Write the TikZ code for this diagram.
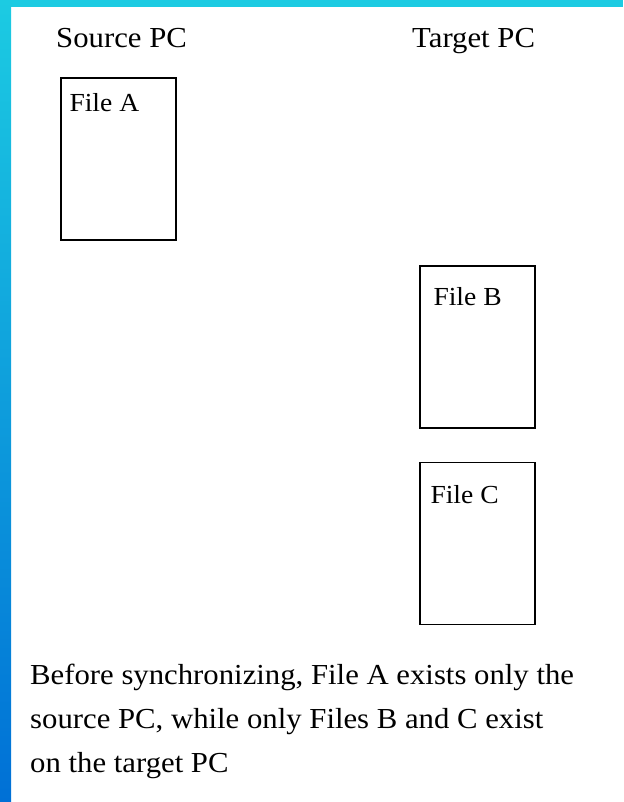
\documentclass[tikz,border=0pt]{standalone}
\usepackage{fontspec}
\setmainfont[FakeStretch=1.06]{Liberation Serif}
\usepackage{tikz}
\usetikzlibrary{positioning}
\definecolor{edgecyan}{RGB}{28, 203, 226}
\definecolor{edgeblue}{RGB}{0, 112, 214}

\begin{document}
\begin{tikzpicture}[x=1pt, y=-1pt,
    filebox/.style={draw, line width=1.4pt, minimum width=115pt, minimum height=162pt, inner sep=0pt},
    filelabel/.style={anchor=base west, inner sep=0pt, font=\fontsize{26}{30}\selectfont},
    pclabel/.style={anchor=base west, inner sep=0pt, font=\fontsize{29}{34}\selectfont}]
\useasboundingbox (0,0) rectangle (623,802);

% Blue frame at the top and left
\fill[edgecyan] (0,0) rectangle (623,7);
\shade[top color=edgecyan, bottom color=edgeblue] (0,0) rectangle (11,802);

% Headings
\node[pclabel] (source) at (56,48) {Source PC};
\node[pclabel] (target) at (412,48) {Target PC};

% Files
\node[filebox] (filea) at (118.5,159) {};
\node[filebox] (fileb) at (477.5,347) {};
\node[filebox] (filec) at (477.5,543.5) {};

\node[filelabel] (labela) at ([shift={(9,34)}]filea.north west) {File A};
\node[filelabel] (labelb) at ([shift={(14,40)}]fileb.north west) {File B};
\node[filelabel] (labelc) at ([shift={(11,42)}]filec.north west) {File C};

% Caption
\node[anchor=north west, inner sep=0pt, align=left, font=\fontsize{29}{44}\selectfont] (caption) at (30,664)
    {Before synchronizing, File A exists only the\\
     source PC, while only Files B and C exist\\
     on the target PC};
\end{tikzpicture}
\end{document}
